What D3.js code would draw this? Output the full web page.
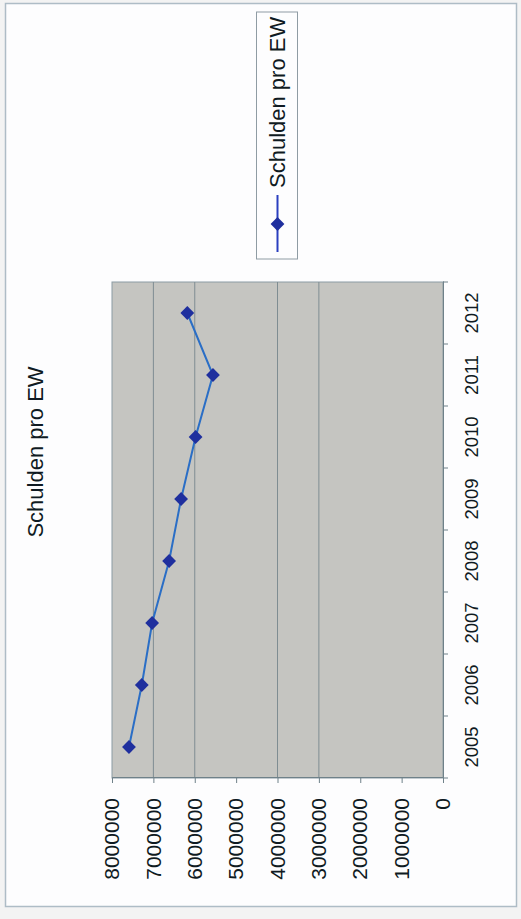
<!DOCTYPE html>
<html>
<head>
<meta charset="utf-8">
<script src="https://cdn.jsdelivr.net/npm/d3@7"></script>
<style>
  html, body { margin: 0; padding: 0; background: #f3f3f3; }
  svg { display: block; }
  text { font-family: "Liberation Sans", Arial, sans-serif; fill: #0f1a22; }
</style>
</head>
<body>
<script>
// Debt per inhabitant, 2005–2012
const years = ["2005", "2006", "2007", "2008", "2009", "2010", "2011", "2012"];
const debtPerInhabitant = [7590000, 7280000, 7030000, 6620000, 6330000, 5980000, 5560000, 6180000];
const valueTicks = [0, 1000000, 2000000, 3000000, 4000000, 5000000, 6000000, 7000000, 8000000];
const gridValues = [3000000, 4000000, 6000000, 7000000];
const seriesName = "Schulden pro EW";
const chartTitle = "Schulden pro EW";

const W = 521, H = 919;
const svg = d3.select("body").append("svg").attr("width", W).attr("height", H);

// outer chart frame
svg.append("rect")
  .attr("x", 5.5).attr("y", 3.5).attr("width", 511).attr("height", 903)
  .attr("fill", "#fdfdfe").attr("stroke", "#aebcc6").attr("stroke-width", 1.5);

// The chart is laid out in landscape coordinates and turned a quarter turn
// counter-clockwise, so the years run upward along the right edge.
const g = svg.append("g").attr("transform", `translate(0,${H}) rotate(-90)`);

const x = d3.scaleBand().domain(years).range([141, 637]).paddingInner(0).paddingOuter(0);
const y = d3.scaleLinear().domain([0, 8000000]).range([443, 112]);

// plot area
g.append("rect")
  .attr("x", x.range()[0]).attr("y", y(8000000))
  .attr("width", x.range()[1] - x.range()[0]).attr("height", y(0) - y(8000000))
  .attr("fill", "#c5c5c1").attr("stroke", "#8c9ca3").attr("stroke-width", 1);

// horizontal gridlines
g.append("g").selectAll("line").data(gridValues).join("line")
  .attr("x1", x.range()[0]).attr("x2", x.range()[1])
  .attr("y1", d => y(d)).attr("y2", d => y(d))
  .attr("stroke", "#7f8d92").attr("stroke-width", 1);

// value axis
const yAxis = g.append("g").attr("transform", `translate(${x.range()[0]},0)`)
  .call(d3.axisLeft(y).tickValues(valueTicks).tickFormat(d3.format("d")).tickSize(5).tickPadding(15));
yAxis.select(".domain").attr("stroke", "#6f8189");
yAxis.selectAll(".tick line").attr("stroke", "#6f8189");
yAxis.selectAll("text").attr("font-size", 21).attr("fill", "#0f1a22");

// category axis
const xAxis = g.append("g").attr("transform", `translate(0,${y(0)})`)
  .call(d3.axisBottom(x).tickSize(0).tickPadding(22));
xAxis.select(".domain").attr("stroke", "#6f8189");
xAxis.selectAll("text").attr("font-size", 18.5).attr("fill", "#0f1a22");
// tick marks between categories
xAxis.append("g").selectAll("line").data(d3.range(years.length + 1)).join("line")
  .attr("x1", i => x.range()[0] + i * x.step()).attr("x2", i => x.range()[0] + i * x.step())
  .attr("y1", 0).attr("y2", 5)
  .attr("stroke", "#6f8189");

// series line and markers
const pts = years.map((yr, i) => ({ yr, v: debtPerInhabitant[i] }));
const cx = d => x(d.yr) + x.bandwidth() / 2;
g.append("path").datum(pts)
  .attr("d", d3.line().x(cx).y(d => y(d.v)))
  .attr("fill", "none").attr("stroke", "#2a6ec6").attr("stroke-width", 2);
const marker = d3.symbol().type(d3.symbolSquare).size(95);
g.append("g").selectAll("path").data(pts).join("path")
  .attr("d", marker)
  .attr("transform", d => `translate(${cx(d)},${y(d.v)}) rotate(45)`)
  .attr("fill", "#1f2f9e");

// chart title
g.append("text")
  .attr("x", 467).attr("y", 43)
  .attr("text-anchor", "middle").attr("font-size", 22)
  .text(chartTitle);

// legend
const lg = g.append("g");
lg.append("rect")
  .attr("x", 660).attr("y", 256.5).attr("width", 247).attr("height", 41)
  .attr("fill", "none").attr("stroke", "#8f9ca4").attr("stroke-width", 1);
lg.append("line")
  .attr("x1", 667).attr("x2", 724).attr("y1", 277.5).attr("y2", 277.5)
  .attr("stroke", "#2a3fc0").attr("stroke-width", 2);
lg.append("path")
  .attr("d", marker)
  .attr("transform", "translate(695,277.5) rotate(45)")
  .attr("fill", "#1f2f9e");
lg.append("text")
  .attr("x", 731).attr("y", 277.5).attr("dy", "0.35em")
  .attr("font-size", 22)
  .text(seriesName);
</script>
</body>
</html>
